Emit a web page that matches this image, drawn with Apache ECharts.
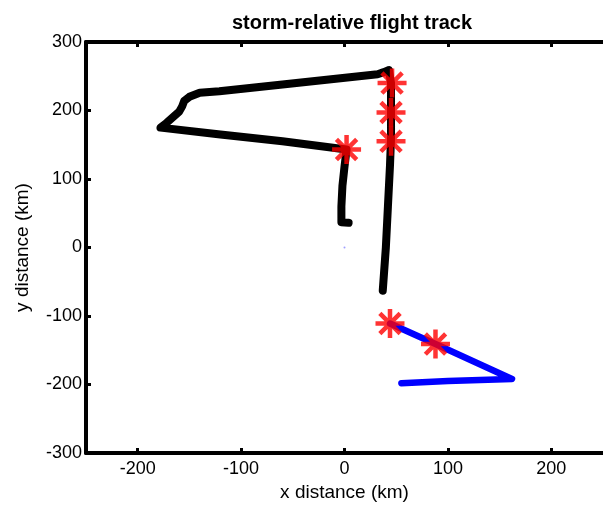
<!DOCTYPE html>
<html>
<head>
<meta charset="utf-8">
<script src="https://cdn.jsdelivr.net/npm/echarts@6/dist/echarts.min.js"></script>
<style>
  html, body { margin: 0; padding: 0; background: #fff; }
  #chart { width: 603px; height: 508px; }
</style>
</head>
<body>
<div id="chart"></div>
<script>
// black leg of the track (km, storm-relative)
const blackTrack = [
  [4, 36], [-3, 37], [-3, 60], [-2, 90], [0, 118], [2, 143],
  [-60, 155], [-120, 165], [-178, 175], [-172, 182], [-160, 198],
  [-157, 206], [-155, 214], [-150, 220], [-140, 226], [-121, 228],
  [-60, 238], [32, 253], [38, 256], [43, 259], [45, 240], [45, 200],
  [45, 160], [44, 120], [42, 60], [40, 0], [37, -63]
];
// blue leg of the track
const blueTrack = [
  [44, -111], [88, -141], [162, -192], [100, -195], [55, -198]
];
// red asterisk marks
const starPoints = [
  [46, 240], [45, 197], [45, 155], [2, 143], [44, -111], [88, -141]
];
const centerPoint = [[0, 0]];
const xRange = [-250, 250];
const xTickValues = [-200, -100, 0, 100, 200];
const yRange = [-300, 300];
const yTickValues = [-300, -200, -100, 0, 100, 200, 300];

const chart = echarts.init(document.getElementById('chart'));
const font = 'Liberation Sans, Arial, sans-serif';

const axisLine = { onZero: false, lineStyle: { color: '#000', width: 4 } };

chart.setOption({
  animation: false,
  title: {
    text: 'storm-relative flight track',
    left: 347,
    textAlign: 'center',
    top: 8,
    textStyle: { fontFamily: font, fontSize: 20, fontWeight: 'bold', color: '#000' }
  },
  grid: { left: 86, right: -6, top: 42, bottom: 55 },
  xAxis: [
    {
      type: 'value',
      min: xRange[0], max: xRange[1],
      name: 'x distance (km)',
      nameLocation: 'middle',
      nameGap: 30,
      nameTextStyle: { fontFamily: font, fontSize: 19, color: '#000' },
      axisLine: axisLine,
      axisTick: { inside: true, length: 5, customValues: xTickValues, lineStyle: { color: '#000', width: 3 } },
      axisLabel: { fontFamily: font, fontSize: 18, color: '#000', margin: 7, customValues: xTickValues },
      splitLine: { show: false }
    },
    {
      type: 'value',
      position: 'top',
      min: xRange[0], max: xRange[1],
      axisLine: axisLine,
      axisTick: { inside: true, length: 5, customValues: xTickValues, lineStyle: { color: '#000', width: 3 } },
      axisLabel: { show: false },
      splitLine: { show: false }
    }
  ],
  yAxis: {
    type: 'value',
    min: yRange[0], max: yRange[1],
    name: 'y distance (km)',
    nameLocation: 'middle',
    nameGap: 54,
    nameTextStyle: { fontFamily: font, fontSize: 19, color: '#000' },
    axisLine: axisLine,
    axisTick: { inside: true, length: 5, customValues: yTickValues, lineStyle: { color: '#000', width: 3 } },
    axisLabel: { fontFamily: font, fontSize: 18, color: '#000', margin: 4, customValues: yTickValues },
    splitLine: { show: false }
  },
  series: [
    {
      type: 'line',
      data: blackTrack,
      showSymbol: false,
      lineStyle: { color: '#000', width: 8, cap: 'round', join: 'round' }
    },
    {
      type: 'line',
      data: blueTrack,
      showSymbol: false,
      lineStyle: { color: '#0000ff', width: 6.5, cap: 'round', join: 'round' }
    },
    {
      type: 'scatter',
      data: centerPoint,
      symbolSize: 2,
      itemStyle: { color: '#8888ff' }
    },
    {
      type: 'scatter',
      data: starPoints,
      symbol: 'path://M0,10 L20,10 M10,0 L10,20 M3,3 L17,17 M17,3 L3,17',
      symbolSize: 29,
      itemStyle: { color: 'transparent', borderColor: '#ff0000', borderWidth: 4.5 },
      z: 5
    }
  ]
});
</script>
</body>
</html>
